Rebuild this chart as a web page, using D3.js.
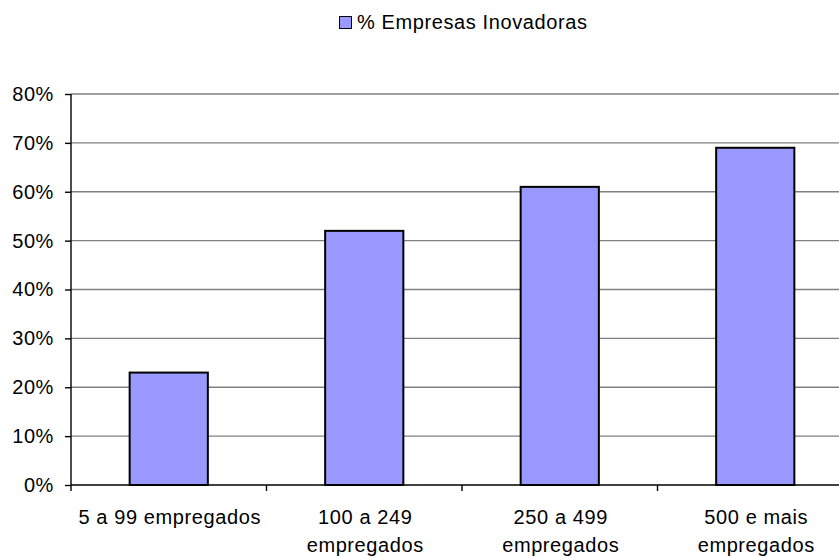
<!DOCTYPE html>
<html>
<head>
<meta charset="utf-8">
<script src="https://cdn.jsdelivr.net/npm/d3@7"></script>
<style>
  html, body { margin: 0; padding: 0; background: #fff; }
  svg { display: block; font-family: "Liberation Sans", Arial, sans-serif; }
</style>
</head>
<body>
<svg id="chart" width="839" height="557"></svg>
<script>
// Share of innovative firms by company size
const categories = [["5 a 99 empregados"], ["100 a 249", "empregados"], ["250 a 499", "empregados"], ["500 e mais", "empregados"]];
const seriesName = "% Empresas Inovadoras";
const values = [0.23, 0.52, 0.61, 0.69];
const yTicks = [0, 0.1, 0.2, 0.3, 0.4, 0.5, 0.6, 0.7, 0.8];

const svg = d3.select("#chart");
const W = 839, H = 557;
const plot = { left: 71, right: 853, top: 94, bottom: 485 };
const FONT = 20, SPACING = 0.6;

svg.append("defs").append("clipPath").attr("id", "clip")
  .append("rect").attr("x", 0).attr("y", 0).attr("width", W).attr("height", H);

const x = d3.scaleBand()
  .domain(d3.range(categories.length))
  .range([plot.left, plot.right])
  .paddingInner(0.6).paddingOuter(0.3);

const xTickScale = d3.scaleLinear().domain([0, categories.length]).range([plot.left, plot.right]);

const y = d3.scaleLinear().domain([0, 0.8]).range([plot.bottom, plot.top]);

const g = svg.append("g").attr("clip-path", "url(#clip)");

// horizontal gridlines
g.append("g").selectAll("line").data(yTicks.filter(d => d > 0)).join("line")
  .attr("x1", plot.left).attr("x2", plot.right)
  .attr("y1", d => y(d)).attr("y2", d => y(d))
  .attr("stroke", "#808080").attr("stroke-width", 1.4);

// bars
g.append("g").selectAll("rect").data(values).join("rect")
  .attr("x", (d, i) => x(i))
  .attr("width", x.bandwidth())
  .attr("y", d => y(d))
  .attr("height", d => y(0) - y(d))
  .attr("fill", "#9999FF")
  .attr("stroke", "#000").attr("stroke-width", 2);

// y axis
const yAxis = d3.axisLeft(y).tickValues(yTicks).tickFormat(d3.format(".0%")).tickSize(6).tickPadding(11);
const ya = svg.append("g").attr("transform", `translate(${plot.left},0)`).call(yAxis);
ya.select(".domain").attr("stroke", "#000").attr("stroke-width", 1.4).attr("d", `M0,${plot.top}V${plot.bottom}`);
ya.selectAll(".tick line").attr("stroke", "#000").attr("stroke-width", 1.4);
ya.selectAll(".tick text").attr("font-size", FONT).attr("letter-spacing", SPACING).attr("fill", "#000")
  .attr("font-family", '"Liberation Sans", Arial, sans-serif');

// x axis
const xa = g.append("g").attr("transform", `translate(0,${plot.bottom})`);
xa.append("line").attr("x1", plot.left).attr("x2", plot.right).attr("y1", 0).attr("y2", 0)
  .attr("stroke", "#000").attr("stroke-width", 1.4);
xa.selectAll(".xt").data(d3.range(categories.length + 1)).join("line").attr("class", "xt")
  .attr("x1", d => xTickScale(d)).attr("x2", d => xTickScale(d))
  .attr("y1", 0).attr("y2", 6).attr("stroke", "#000").attr("stroke-width", 1.4);

const labels = svg.append("g").selectAll("text").data(categories).join("text")
  .attr("x", (d, i) => x(i) + x.bandwidth() / 2 + 1)
  .attr("y", 524)
  .attr("text-anchor", "middle").attr("font-size", FONT).attr("letter-spacing", SPACING).attr("fill", "#000");
labels.selectAll("tspan").data(d => d).join("tspan")
  .attr("x", function() { return this.parentNode.getAttribute("x"); })
  .attr("dy", (d, i) => i === 0 ? 0 : 28)
  .text(d => d);

// legend
const lg = svg.append("g");
lg.append("rect").attr("x", 339.5).attr("y", 16.5).attr("width", 12).attr("height", 12)
  .attr("fill", "#9999FF").attr("stroke", "#000").attr("stroke-width", 1);
lg.append("text").attr("x", 357).attr("y", 29).attr("font-size", FONT).attr("letter-spacing", SPACING)
  .attr("fill", "#000").text(seriesName);
</script>
</body>
</html>
